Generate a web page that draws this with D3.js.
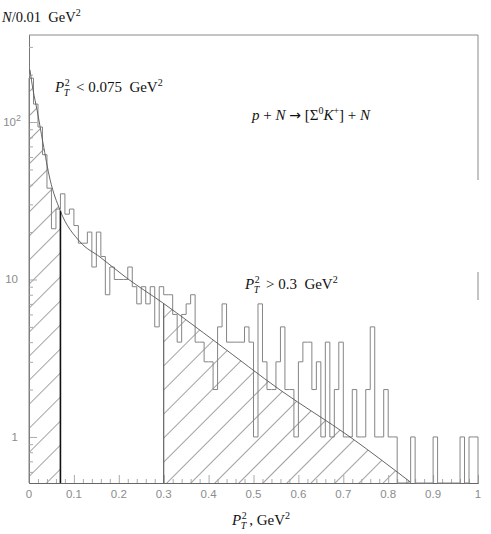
<!DOCTYPE html>
<html><head><meta charset="utf-8">
<script src="https://cdn.jsdelivr.net/npm/d3@7"></script>
<style>body{margin:0;background:#fff}</style>
</head><body>
<svg id="c" width="491" height="534"></svg>
<script>
// ---- data ----
const binWidth = 0.01;
const counts = [190,130,93,62,38,21,28, 35,26,28,22,17,17,20,12,20,
  14,8,12,10,10,10,12,9,7,9,7,9,5,9,
  8,8,6,4,6,7,8, 4,4,3,3,2,5,7, 4,4,4,4,5,
  4,1,7,3,2,2,3,5,2,2,1,3,4,4,2,3,1,4,1,2,4,1,1,2,1,1,2,5,1,1,2,1,1,0,0,0,1,0,0,0,0,1,0,0,0,0,0,1,0,1,1];
const fitP = [0.002,0.009,0.018,0.031,0.047,0.069,0.114,0.158,0.218,0.298,0.419,0.559,0.715,0.849];
const fitN = [215,160,119,74,43,27.6,17.3,13.9,10.2,7.1,3.95,1.99,1.0,0.518];
const xTicks = [0,0.1,0.2,0.3,0.4,0.5,0.6,0.7,0.8,0.9,1];
const xTickLabels = ["0","0.1","0.2","0.3","0.4","0.5","0.6","0.7","0.8","0.9","1"];
const yTicks = [1,10,100];
const yTickBase = ["1","10","10"];
const yTickSup = ["","","2"];
const cutLow = 0.07, cutHigh = 0.3;

// ---- layout ----
const L = 29, R = 478, T = 35, B = 483;
const svg = d3.select("#c");
const x = d3.scaleLinear().domain([0,1]).range([L,R]);
const y = d3.scaleLog().domain([0.51,357]).range([B,T]).clamp(true);
const yc = c => c > 0 ? y(c) : B;
const NB = "\u00a0";

const defs = svg.append("defs");
defs.append("pattern").attr("id","hatch").attr("patternUnits","userSpaceOnUse")
  .attr("width",17).attr("height",17).attr("patternTransform","rotate(45)")
  .append("line").attr("x1",0).attr("y1",0).attr("x2",0).attr("y2",17)
  .attr("stroke","#333").attr("stroke-width",0.9);
defs.append("clipPath").attr("id","clipL").append("rect")
  .attr("x",x(0)).attr("y",T).attr("width",x(cutLow)-x(0)).attr("height",B-T);
defs.append("clipPath").attr("id","clipR").append("rect")
  .attr("x",x(cutHigh)).attr("y",T).attr("width",x(1)-x(cutHigh)).attr("height",B-T);

const fit = fitP.map((p,i)=>({p, n: fitN[i]}));
const area = d3.area().x(d=>x(d.p)).y0(B).y1(d=>y(d.n)).curve(d3.curveMonotoneX);
const line = d3.line().x(d=>x(d.p)).y(d=>y(d.n)).curve(d3.curveMonotoneX);
svg.append("path").attr("d",area(fit)).attr("fill","url(#hatch)").attr("clip-path","url(#clipL)");
svg.append("path").attr("d",area(fit)).attr("fill","url(#hatch)").attr("clip-path","url(#clipR)");

function fitAt(p){
  for(let i=0;i<fitP.length-1;i++){
    if(p>=fitP[i] && p<=fitP[i+1]){
      const t=(p-fitP[i])/(fitP[i+1]-fitP[i]);
      return Math.exp(Math.log(fitN[i])*(1-t)+Math.log(fitN[i+1])*t);
    }
  }
  return fitN[fitN.length-1];
}

// frame
const frame = svg.append("g").attr("stroke","#8a8a8a").attr("fill","none").attr("stroke-width",1);
frame.append("line").attr("x1",L).attr("x2",R).attr("y1",T).attr("y2",T);
frame.append("line").attr("x1",R).attr("x2",R).attr("y1",T).attr("y2",180);
frame.append("line").attr("x1",R).attr("x2",R).attr("y1",272).attr("y2",300);

// axes
const xMinor = d3.range(0,1.0001,0.02).filter(v=>Math.abs(v*10-Math.round(v*10))>1e-6);
const gx = svg.append("g").attr("transform",`translate(0,${B})`);
gx.call(d3.axisBottom(x).tickValues(xTicks).tickSize(-8).tickSizeOuter(0).tickFormat(""));
gx.append("g").call(d3.axisBottom(x).tickValues(xMinor).tickSize(-4).tickSizeOuter(0).tickFormat(""));
gx.selectAll("path.domain").attr("stroke","#666");
gx.selectAll(".tick line").attr("stroke","#aaa");
const yMinor = [];
[0.1,1,10,100].forEach(d=>{for(let k=2;k<=9;k++){const v=d*k; if(v>0.51&&v<357) yMinor.push(v);}});
const gy = svg.append("g").attr("transform",`translate(${L},0)`);
gy.call(d3.axisLeft(y).tickValues(yTicks).tickSize(-8).tickSizeOuter(0).tickFormat(""));
gy.append("g").call(d3.axisLeft(y).tickValues(yMinor).tickSize(-4).tickSizeOuter(0).tickFormat(""));
gy.selectAll("path.domain").attr("stroke","#777");
gy.selectAll(".tick line").attr("stroke","#aaa");

// tick labels
const tl = svg.append("g").attr("font-family","Liberation Sans, sans-serif").attr("font-size",11.5).attr("fill","#8c8c8c");
xTicks.forEach((v,i)=>tl.append("text").attr("x",x(v)).attr("y",B+15).attr("text-anchor","middle").text(xTickLabels[i]));
yTicks.forEach((v,i)=>{
  const t = tl.append("text").attr("x",yTickSup[i]? 21: 18).attr("y",y(v)+4).attr("text-anchor","end");
  t.append("tspan").text(yTickBase[i]);
  if(yTickSup[i]) t.append("tspan").attr("dy",-5).attr("font-size",9).text(yTickSup[i]);
});

// histogram
let d = `M${x(0)},${B}`;
counts.forEach((c,i)=>{ d += `V${yc(c)}H${x((i+1)*binWidth)}`; });
d += `V${B}`;
svg.append("path").attr("d",d).attr("fill","none").attr("stroke","#858585").attr("stroke-width",1);

// fit curve
svg.append("path").attr("d",line(fit)).attr("fill","none").attr("stroke","#555").attr("stroke-width",0.9);

// cut lines
svg.append("line").attr("x1",x(cutLow)).attr("x2",x(cutLow)).attr("y1",B).attr("y2",y(fitAt(cutLow)))
  .attr("stroke","#111").attr("stroke-width",1.6);
svg.append("line").attr("x1",x(cutHigh)).attr("x2",x(cutHigh)).attr("y1",B).attr("y2",y(fitAt(cutHigh)))
  .attr("stroke","#555").attr("stroke-width",1.1);

// math-like labels
const serif = "Liberation Serif, DejaVu Serif, serif";
function ptLabel(x0, yb, size, rest){
  const g = svg.append("g").attr("font-family",serif).attr("font-size",size).attr("fill","#111");
  const P = g.append("text").attr("x",x0).attr("y",yb).attr("font-style","italic").text("P");
  const w = P.node().getComputedTextLength();
  g.append("text").attr("x",x0+w+0.5).attr("y",yb-size*0.42).attr("font-size",size*0.66).text("2");
  const s = g.append("text").attr("x",x0+w-0.5).attr("y",yb+size*0.27).attr("font-size",size*0.66).attr("font-style","italic").text("T");
  const w2 = Math.max(s.node().getComputedTextLength(), size*0.4);
  const r = g.append("text").attr("x",x0+w+w2+2).attr("y",yb);
  rest(r);
}
ptLabel(55, 92, 15, t=>{
  t.append("tspan").text(NB+"<"+NB+"0.075"+NB+NB+"GeV");
  t.append("tspan").attr("dy",-6).attr("font-size",10).text("2");
});
ptLabel(245, 289, 15, t=>{
  t.append("tspan").text(NB+">"+NB+"0.3"+NB+NB+"GeV");
  t.append("tspan").attr("dy",-6).attr("font-size",10).text("2");
});
ptLabel(232, 525, 15, t=>{
  t.append("tspan").text(","+NB+"GeV");
  t.append("tspan").attr("dy",-6).attr("font-size",10).text("2");
});

// reaction
const rx = svg.append("text").attr("x",252).attr("y",120).attr("font-family",serif).attr("font-size",15).attr("fill","#111");
rx.append("tspan").attr("font-style","italic").text("p");
rx.append("tspan").text(NB+"+"+NB);
rx.append("tspan").attr("font-style","italic").text("N");
rx.append("tspan").text(NB);
rx.append("tspan").attr("font-family","DejaVu Sans, sans-serif").attr("font-size",14).text("→");
rx.append("tspan").text(NB+"[Σ");
rx.append("tspan").attr("dy",-6).attr("font-size",10).text("0");
rx.append("tspan").attr("dy",6).attr("font-style","italic").text("K");
rx.append("tspan").attr("dy",-6).attr("font-size",10).text("+");
rx.append("tspan").attr("dy",6).text("]"+NB+"+"+NB);
rx.append("tspan").attr("font-style","italic").text("N");

// y title
const yt = svg.append("text").attr("x",2).attr("y",22).attr("font-family",serif).attr("font-size",14.5).attr("fill","#111");
yt.append("tspan").attr("font-style","italic").text("N");
yt.append("tspan").text("/0.01"+NB+NB+"GeV");
yt.append("tspan").attr("dy",-6).attr("font-size",10).text("2");
</script>
</body></html>
